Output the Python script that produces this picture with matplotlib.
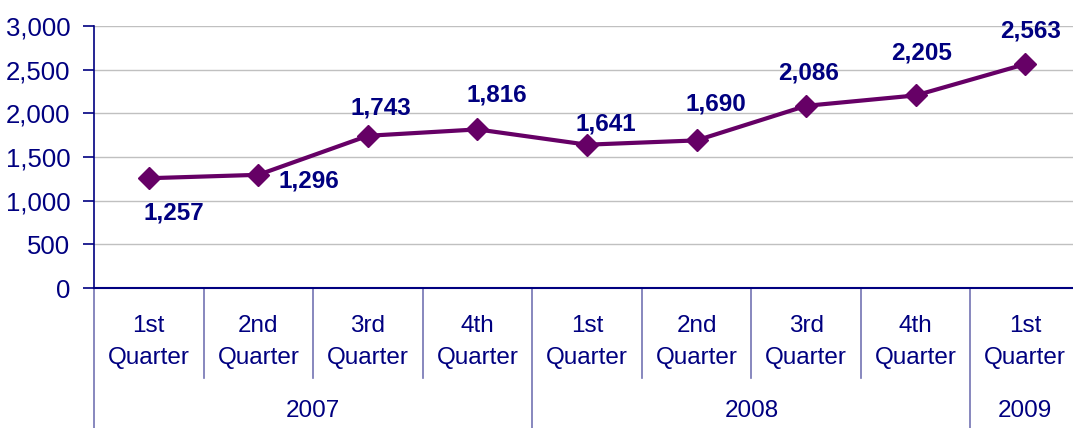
import matplotlib
matplotlib.use("Agg")
import matplotlib.pyplot as plt
import matplotlib.transforms as mtransforms
from matplotlib.ticker import FuncFormatter

quarters = ["1st\nQuarter", "2nd\nQuarter", "3rd\nQuarter", "4th\nQuarter",
            "1st\nQuarter", "2nd\nQuarter", "3rd\nQuarter", "4th\nQuarter",
            "1st\nQuarter"]
years = ["2007", "2008", "2009"]
year_counts = [4, 4, 1]
values = [1257, 1296, 1743, 1816, 1641, 1690, 2086, 2205, 2563]
# label offsets (pixels, dx right, dy up)
label_offsets = [(25, -35), (51, -6), (13, 28), (19, 34), (19, 21),
                 (19, 36), (2, 33), (6, 42), (5, 33)]

plt.rcParams['font.family'] = ['Liberation Sans', 'DejaVu Sans']
NAVY = '#000080'
LINE = '#660066'
DIV = '#7373b3'

W, H = 1073, 428
fig = plt.figure(figsize=(W / 100, H / 100), dpi=100)
ax = fig.add_axes([94 / W, 1 - 288 / H, 986 / W, 262 / H])

x = list(range(len(values)))
ax.plot(x, values, color=LINE, lw=3, marker='D', markersize=11.5,
        markerfacecolor=LINE, markeredgecolor=LINE, zorder=3, clip_on=False)

ax.set_xlim(-0.5, len(values) - 0.5)
ax.set_ylim(0, 3000)
ax.set_yticks(range(0, 3001, 500))
ax.yaxis.set_major_formatter(FuncFormatter(lambda v, p: f"{int(v):,}"))
ax.tick_params(axis='y', colors=NAVY, labelsize=18.5, length=8, width=1.2,
               pad=9, direction='out')
ax.tick_params(axis='y', labelcolor=NAVY)
ax.set_xticks([])
ax.grid(axis='y', color='#c0c0c0', lw=1)
ax.set_axisbelow(True)
for s in ['top', 'right']:
    ax.spines[s].set_visible(False)
ax.spines['left'].set_color(NAVY)
ax.spines['left'].set_linewidth(1.2)
ax.spines['bottom'].set_color(NAVY)
ax.spines['bottom'].set_linewidth(1.5)

# data labels
for xi, v, (dx, dy) in zip(x, values, label_offsets):
    ax.annotate(f"{v:,}", (xi, v), xytext=(dx * 0.72, dy * 0.72),
                textcoords='offset points', ha='center', va='center',
                fontsize=17.5, fontweight='bold', color=NAVY, zorder=4)

# multi-level category axis
tr = mtransforms.blended_transform_factory(ax.transData, fig.transFigure)
def fy(py):
    return 1 - py / H

for xi, q in enumerate(quarters):
    ax.text(xi, fy(342), q, transform=tr, ha='center', va='center',
            fontsize=17.5, color=NAVY, linespacing=1.55)

# quarter dividers
start = 0
year_bounds = [-0.5]
for c in year_counts:
    start += c
    year_bounds.append(start - 0.5)
for b in [i + 0.5 for i in range(len(values) - 1)]:
    if b not in year_bounds:
        ax.plot([b, b], [fy(288), fy(378)], transform=tr, color=DIV, lw=1.2,
                clip_on=False)
for b in year_bounds:
    ax.plot([b, b], [fy(288), fy(428)], transform=tr, color=DIV, lw=1.2,
            clip_on=False)

# year labels
start = 0
for yname, c in zip(years, year_counts):
    mid = start + (c - 1) / 2
    ax.text(mid, fy(411), yname, transform=tr, ha='center', va='center',
            fontsize=17.5, color=NAVY)
    start += c

fig.savefig("out.png", dpi=100)
